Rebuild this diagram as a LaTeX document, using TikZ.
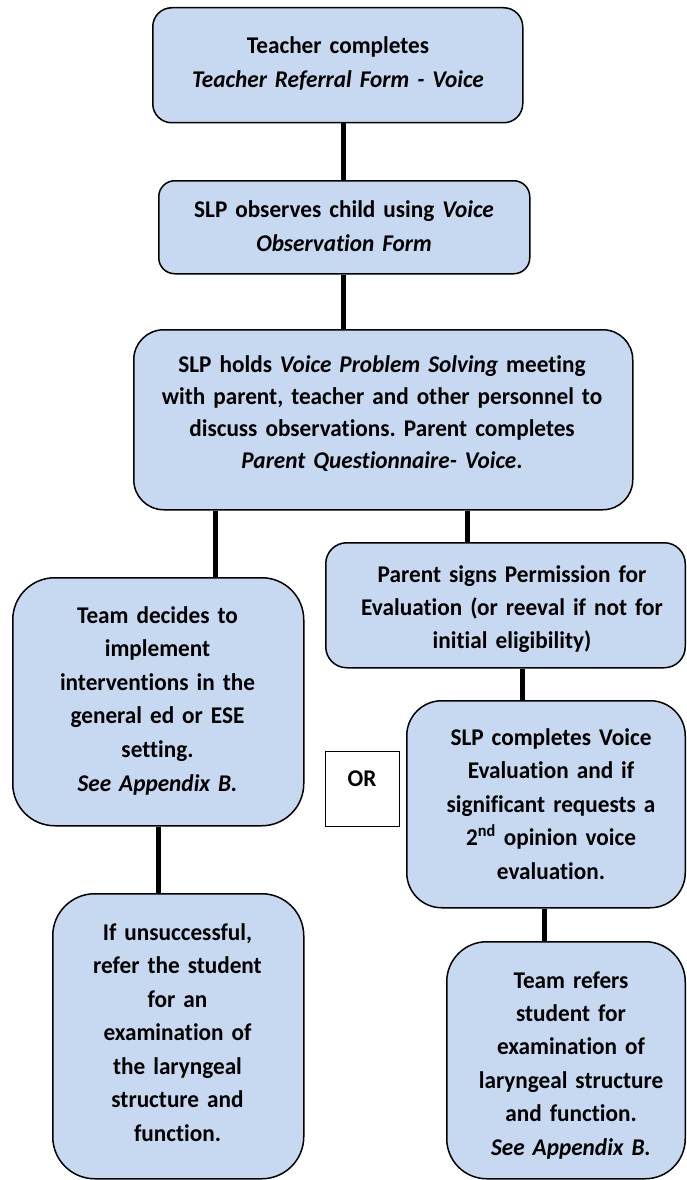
\documentclass[tikz,border=0pt]{standalone}
\usepackage{fontspec}
\setmainfont{Carlito}[Ligatures={NoCommon}, FakeStretch=0.968]
\usetikzlibrary{calc}
\frenchspacing
\definecolor{boxfill}{RGB}{198,217,241}
\tikzset{
  flowbox/.style={draw=black, line width=1.5pt, fill=boxfill, inner sep=0pt, anchor=north west},
  orbox/.style={draw=black, line width=1.2pt, fill=white, inner sep=0pt, anchor=north west},
  boxtext/.style={inner sep=0pt, anchor=base, text width=560pt, align=center, font=\bfseries\fontsize{24}{33.5}\selectfont},
  link/.style={line width=5pt, black}
}
\begin{document}
\begin{tikzpicture}[x=1pt,y=-1pt]
\fill[white] (0,0) rectangle (686,1180);
\useasboundingbox (0,0) rectangle (686,1180);

% x positions of connectors
\coordinate (xa) at (343,0);
\coordinate (xb) at (215,0);
\coordinate (xc) at (467,0);
\coordinate (xd) at (522,0);
\coordinate (xe) at (158,0);
\coordinate (xf) at (544,0);

% boxes
\node[flowbox, rounded corners=19pt, minimum width=370pt, minimum height=115pt] (b1) at (152,7) {};
\node[flowbox, rounded corners=16pt, minimum width=371pt, minimum height=93pt] (b2) at (158,180) {};
\node[flowbox, rounded corners=30pt, minimum width=499pt, minimum height=180pt] (b3) at (133,329) {};
\node[flowbox, rounded corners=21pt, minimum width=359.5pt, minimum height=125pt] (b4) at (325,542) {};
\node[flowbox, rounded corners=42pt, minimum width=291pt, minimum height=248pt] (b5) at (12,577) {};
\node[flowbox, rounded corners=42pt, minimum width=251pt, minimum height=285pt] (b6) at (52,893) {};
\node[flowbox, rounded corners=35pt, minimum width=278.5pt, minimum height=207pt] (b7) at (406,700) {};
\node[flowbox, rounded corners=40pt, minimum width=238.5pt, minimum height=237pt] (b8) at (446,941) {};
\node[orbox, minimum width=74pt, minimum height=75pt] (bor) at (325,751) {};

% connectors
\draw[link] (b1.south -| xa) -- (b2.north -| xa);
\draw[link] (b2.south -| xa) -- (b3.north -| xa);
\draw[link] (b3.south -| xb) -- (b5.north -| xb);
\draw[link] (b3.south -| xc) -- (b4.north -| xc);
\draw[link] (b4.south -| xd) -- (b7.north -| xd);
\draw[link] (b5.south -| xe) -- (b6.north -| xe);
\draw[link] (b7.south -| xf) -- (b8.north -| xf);

% texts
\node[boxtext, font=\bfseries\fontsize{24}{34}\selectfont] (t1) at (338,54) {Teacher completes\\ \textit{Teacher Referral Form - Voice}};
\node[boxtext, font=\bfseries\fontsize{24}{34}\selectfont] (t2) at (344,217) {SLP observes child using \textit{Voice}\\ \textit{Observation Form}};
\node[boxtext, font=\bfseries\fontsize{24}{32}\selectfont] (t3) at (382,372) {SLP holds \textit{Voice Problem Solving} meeting\\ with parent, teacher and other personnel to\\ discuss observations. Parent completes\\ \textit{Parent Questionnaire- Voice}.};
\node[boxtext, font=\bfseries\fontsize{24}{33}\selectfont] (t4) at (512,582) {Parent signs Permission for\\ Evaluation (or reeval if not for\\ initial eligibility)};
\node[boxtext, font=\bfseries\fontsize{24}{33.6}\selectfont] (t5) at (157.5,623) {Team decides to\\ implement\\ interventions in the\\ general ed or ESE\\ setting.\\ \textit{See Appendix B.}};
\node[boxtext] (tor) at (362,786) {OR};
\node[boxtext] (t7) at (551,745) {SLP completes Voice\\ Evaluation and if\\ significant requests a\\ 2\textsuperscript{nd} opinion voice\\ evaluation.};
\node[boxtext] (t6) at (177.5,940) {If unsuccessful,\\ refer the student\\ for an\\ examination of\\ the laryngeal\\ structure and\\ function.};
\node[boxtext, font=\bfseries\fontsize{24}{33.4}\selectfont] (t8) at (571,988) {Team refers\\ student for\\ examination of\\ laryngeal structure\\ and function.\\ \textit{See Appendix B.}};
\end{tikzpicture}
\end{document}
